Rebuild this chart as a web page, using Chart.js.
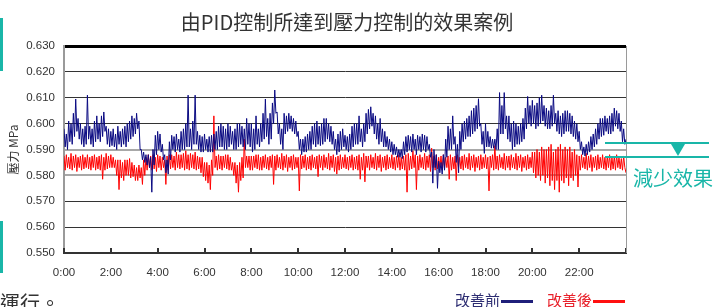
<!DOCTYPE html>
<html>
<head>
<meta charset="utf-8">
<script src="https://cdn.jsdelivr.net/npm/chart.js@4.4.1/dist/chart.umd.min.js"></script>
<style>
  html, body { margin: 0; padding: 0; background: #fff; }
  #wrap { position: relative; width: 716px; height: 307px; overflow: hidden; font-family: "Noto Sans CJK TC", "Noto Sans", sans-serif; }
  canvas { position: absolute; left: 0; top: 0; }
  .abs { position: absolute; white-space: nowrap; }
  .bar { position: absolute; left: 0; width: 3px; background: #19b6a8; }
</style>
</head>
<body>
<div id="wrap">
  <canvas id="c" width="716" height="307"></canvas>
  <div class="bar" style="top:18px;height:53px;"></div>
  <div class="bar" style="top:221px;height:52px;"></div>
  <div class="abs" id="title" style="left:0;width:694px;text-align:center;top:12px;font-size:20px;line-height:20px;color:#333;">由PID控制所達到壓力控制的效果案例</div>
  <div class="abs" style="left:0;top:293px;font-size:20px;line-height:20px;color:#333;">運行。</div>
  <div class="abs" style="left:633px;top:168px;font-size:20px;line-height:20px;color:#19b6a8;">減少效果</div>
  <div class="abs" style="left:605px;top:142px;width:104px;height:2px;background:#19b6a8;"></div>
  <div class="abs" style="left:605px;top:156px;width:104px;height:2px;background:#19b6a8;"></div>
  <div class="abs" style="left:671px;top:144px;width:0;height:0;border-left:7px solid transparent;border-right:7px solid transparent;border-top:12px solid #19b6a8;"></div>
  <div class="abs" style="left:455px;top:292px;font-size:15px;line-height:15px;color:#2d2d72;">改善前<span style="display:inline-block;width:32px;height:3px;background:#1f1f7a;vertical-align:middle;margin-left:1px;"></span></div>
  <div class="abs" style="left:547px;top:292px;font-size:15px;line-height:15px;color:#e8202a;">改善後<span style="display:inline-block;width:32px;height:3px;background:#ff1010;vertical-align:middle;margin-left:1px;"></span></div>
</div>
<script>
// sample spacing (hours): readings were taken every 0.05 h (3 min)
const sampleStepHours = 0.05;
const xTickLabels = ["0:00","2:00","4:00","6:00","8:00","10:00","12:00","14:00","16:00","18:00","20:00","22:00"];
const seriesNames = ["改善前", "改善後"];

// 改善前 (before improvement), MPa — one row per hour, 20 readings per row
const beforeValues = [
0.598,0.591,0.596,0.590,0.601,0.593,0.600,0.592,0.604,0.595,0.6095,0.597,0.602,0.594,0.600,0.592,0.598,0.591,0.599,0.592,
0.611,0.594,0.599,0.592,0.598,0.591,0.601,0.593,0.603,0.594,0.600,0.593,0.603,0.595,0.6045,0.597,0.599,0.592,0.598,0.591,
0.597,0.5915,0.598,0.591,0.596,0.590,0.599,0.592,0.597,0.591,0.598,0.592,0.599,0.591,0.600,0.593,0.601,0.594,0.603,0.595,
0.602,0.596,0.604,0.598,0.601,0.590,0.590,0.586,0.589,0.585,0.588,0.584,0.588,0.583,0.587,0.5735,0.590,0.584,0.5955,0.588,
0.597,0.590,0.596,0.589,0.592,0.586,0.588,0.581,0.586,0.5805,0.593,0.586,0.5955,0.590,0.595,0.589,0.596,0.590,0.594,0.589,
0.597,0.590,0.598,0.590,0.600,0.591,0.611,0.591,0.598,0.590,0.601,0.592,0.611,0.592,0.597,0.590,0.5955,0.589,0.595,0.589,
0.596,0.590,0.594,0.589,0.595,0.589,0.5955,0.589,0.596,0.590,0.597,0.590,0.599,0.591,0.600,0.591,0.599,0.590,0.598,0.590,
0.600,0.591,0.599,0.592,0.597,0.590,0.598,0.590,0.600,0.591,0.600,0.592,0.599,0.591,0.598,0.590,0.602,0.592,0.600,0.591,
0.600,0.589,0.598,0.590,0.603,0.592,0.598,0.591,0.600,0.593,0.604,0.594,0.6095,0.595,0.602,0.592,0.604,0.594,0.608,0.600,
0.613,0.604,0.6045,0.596,0.600,0.592,0.598,0.590,0.604,0.596,0.603,0.597,0.604,0.598,0.603,0.597,0.602,0.596,0.601,0.595,
0.597,0.590,0.594,0.588,0.594,0.589,0.595,0.589,0.596,0.590,0.597,0.590,0.599,0.592,0.600,0.591,0.601,0.592,0.599,0.5915,
0.600,0.592,0.602,0.593,0.602,0.594,0.600,0.593,0.599,0.592,0.597,0.590,0.594,0.588,0.596,0.589,0.597,0.590,0.598,0.591,
0.5955,0.590,0.595,0.589,0.596,0.590,0.599,0.591,0.600,0.592,0.600,0.592,0.603,0.593,0.598,0.591,0.600,0.593,0.604,0.596,
0.6055,0.598,0.6065,0.599,0.604,0.596,0.603,0.594,0.600,0.592,0.602,0.593,0.598,0.591,0.597,0.591,0.595,0.590,0.594,0.589,
0.593,0.588,0.592,0.588,0.591,0.587,0.590,0.587,0.590,0.5865,0.593,0.588,0.595,0.589,0.5955,0.590,0.595,0.589,0.596,0.590,
0.594,0.588,0.5955,0.590,0.595,0.589,0.596,0.590,0.5955,0.589,0.595,0.590,0.592,0.587,0.589,0.577,0.590,0.583,0.588,0.575,
0.5855,0.581,0.585,0.5805,0.588,0.582,0.594,0.587,0.599,0.590,0.598,0.590,0.603,0.592,0.595,0.585,0.592,0.581,0.597,0.590,
0.600,0.593,0.601,0.594,0.602,0.595,0.603,0.595,0.605,0.596,0.606,0.597,0.607,0.598,0.6096,0.599,0.600,0.592,0.597,0.5885,
0.600,0.591,0.597,0.591,0.595,0.5905,0.594,0.5905,0.594,0.590,0.598,0.590,0.612,0.596,0.607,0.596,0.612,0.598,0.603,0.594,
0.603,0.593,0.600,0.590,0.601,0.591,0.600,0.592,0.599,0.592,0.600,0.593,0.602,0.594,0.606,0.598,0.6105,0.600,0.607,0.599,
0.609,0.600,0.607,0.598,0.608,0.599,0.610,0.600,0.611,0.601,0.607,0.599,0.606,0.598,0.605,0.598,0.607,0.599,0.611,0.600,
0.604,0.597,0.605,0.596,0.603,0.595,0.604,0.596,0.605,0.597,0.605,0.597,0.604,0.596,0.603,0.595,0.601,0.594,0.600,0.593,
0.597,0.590,0.593,0.588,0.591,0.5875,0.592,0.588,0.593,0.589,0.595,0.590,0.596,0.591,0.598,0.592,0.600,0.594,0.602,0.595,
0.602,0.5955,0.603,0.597,0.602,0.596,0.603,0.596,0.604,0.597,0.606,0.599,0.605,0.598,0.604,0.597,0.601,0.593,0.598,0.592,
0.594
];

// 改善後 (after improvement), MPa — one row per hour, 20 readings per row
const afterValues = [
0.5875,0.582,0.588,0.583,0.587,0.5825,0.5885,0.582,0.5875,0.583,0.588,0.5815,0.587,0.583,0.5875,0.582,0.588,0.5825,0.587,0.583,
0.588,0.5825,0.587,0.582,0.5875,0.583,0.588,0.582,0.587,0.5825,0.5875,0.582,0.588,0.5785,0.587,0.582,0.5885,0.5825,0.5875,0.583,
0.588,0.583,0.587,0.583,0.586,0.580,0.586,0.5745,0.586,0.579,0.585,0.578,0.586,0.580,0.586,0.580,0.5865,0.579,0.585,0.5795,
0.584,0.578,0.583,0.578,0.584,0.579,0.583,0.5765,0.586,0.580,0.587,0.582,0.588,0.583,0.5875,0.582,0.588,0.5825,0.587,0.5815,
0.588,0.583,0.5875,0.582,0.587,0.583,0.586,0.5765,0.5875,0.582,0.588,0.5825,0.588,0.583,0.5875,0.582,0.589,0.583,0.588,0.5825,
0.588,0.583,0.5885,0.582,0.5895,0.5825,0.588,0.582,0.5885,0.583,0.588,0.5825,0.589,0.582,0.5875,0.5825,0.587,0.581,0.587,0.5795,
0.585,0.578,0.585,0.577,0.584,0.5745,0.586,0.580,0.603,0.583,0.5875,0.582,0.588,0.5825,0.5875,0.582,0.5875,0.583,0.588,0.5825,
0.588,0.582,0.587,0.582,0.585,0.580,0.585,0.577,0.584,0.5735,0.585,0.578,0.587,0.579,0.594,0.583,0.5875,0.583,0.5875,0.582,
0.5875,0.582,0.5875,0.583,0.588,0.5825,0.588,0.582,0.587,0.582,0.5875,0.583,0.588,0.5825,0.587,0.582,0.5875,0.583,0.588,0.5765,
0.5875,0.582,0.588,0.583,0.587,0.5825,0.5885,0.582,0.5875,0.583,0.588,0.5815,0.587,0.583,0.5875,0.582,0.588,0.5825,0.587,0.583,
0.587,0.574,0.588,0.5825,0.5875,0.583,0.588,0.582,0.587,0.5825,0.5875,0.582,0.588,0.583,0.587,0.5825,0.5875,0.5795,0.588,0.583,
0.5875,0.582,0.588,0.583,0.587,0.5825,0.5885,0.582,0.5875,0.583,0.588,0.5815,0.587,0.5805,0.5875,0.582,0.588,0.5825,0.587,0.583,
0.588,0.5825,0.587,0.582,0.5875,0.583,0.588,0.582,0.587,0.5825,0.5875,0.582,0.588,0.5785,0.587,0.582,0.5885,0.5775,0.5875,0.583,
0.5875,0.582,0.588,0.583,0.587,0.5825,0.5885,0.582,0.5875,0.583,0.588,0.5815,0.587,0.583,0.5875,0.582,0.588,0.5825,0.587,0.583,
0.588,0.5825,0.587,0.582,0.5875,0.583,0.588,0.582,0.587,0.5825,0.5875,0.582,0.588,0.5735,0.5885,0.582,0.5875,0.5825,0.5895,0.583,
0.588,0.5745,0.5875,0.582,0.588,0.583,0.587,0.5825,0.5885,0.582,0.5875,0.583,0.588,0.5815,0.5905,0.583,0.5875,0.582,0.588,0.5825,
0.587,0.583,0.5875,0.582,0.588,0.5825,0.587,0.583,0.5875,0.5785,0.588,0.582,0.587,0.5825,0.5875,0.578,0.588,0.583,0.587,0.5825,
0.5875,0.582,0.588,0.583,0.587,0.5825,0.5885,0.582,0.5875,0.583,0.588,0.5815,0.587,0.583,0.5875,0.582,0.588,0.5825,0.587,0.583,
0.588,0.5825,0.587,0.574,0.5875,0.583,0.588,0.582,0.5915,0.5825,0.5875,0.582,0.588,0.583,0.587,0.5825,0.5885,0.582,0.5875,0.583,
0.5875,0.582,0.588,0.583,0.587,0.5825,0.5885,0.582,0.5875,0.583,0.588,0.5815,0.587,0.583,0.5875,0.582,0.588,0.5825,0.587,0.583,
0.589,0.581,0.589,0.579,0.590,0.580,0.589,0.578,0.591,0.580,0.590,0.577,0.590,0.579,0.591,0.576,0.592,0.578,0.589,0.5745,
0.590,0.578,0.591,0.5735,0.592,0.578,0.590,0.577,0.591,0.579,0.590,0.576,0.591,0.579,0.589,0.578,0.590,0.580,0.588,0.5755,
0.5875,0.582,0.588,0.583,0.587,0.5825,0.5885,0.582,0.5875,0.583,0.588,0.5815,0.587,0.583,0.5875,0.582,0.588,0.5825,0.587,0.583,
0.588,0.5825,0.587,0.582,0.5875,0.583,0.588,0.582,0.587,0.5825,0.5875,0.582,0.588,0.583,0.587,0.5825,0.5865,0.582,0.5875,0.583,
0.581
];

const toPoints = arr => arr.map((v, i) => ({ x: Math.round(i * sampleStepHours * 100) / 100, y: v }));

const innerTicks = {
  id: 'innerTicks',
  afterDraw(chart) {
    const ctx = chart.ctx, xs = chart.scales.x, area = chart.chartArea;
    ctx.save();
    ctx.strokeStyle = '#333';
    ctx.lineWidth = 2;
    for (let h = 0; h <= 24; h += 2) {
      const px = Math.round(xs.getPixelForValue(h));
      ctx.beginPath();
      ctx.moveTo(px, area.bottom);
      ctx.lineTo(px, area.bottom - 5);
      ctx.stroke();
    }
    ctx.strokeStyle = '#9a9a9a';
    ctx.lineWidth = 1;
    ctx.beginPath();
    ctx.moveTo(area.right + 0.5, area.top);
    ctx.lineTo(area.right + 0.5, area.bottom);
    ctx.stroke();
    ctx.restore();
  }
};

new Chart(document.getElementById('c'), {
  type: 'line',
  data: {
    datasets: [
      { label: seriesNames[0], data: toPoints(beforeValues), borderColor: '#0a0a82', borderWidth: 1, pointRadius: 0, tension: 0, order: 0 },
      { label: seriesNames[1], data: toPoints(afterValues), borderColor: '#ff0000', borderWidth: 1, pointRadius: 0, tension: 0, order: 1 }
    ]
  },
  options: {
    responsive: false,
    animation: false,
    devicePixelRatio: 1,
    layout: { padding: { left: 0, right: 90, top: 46, bottom: 0 } },
    plugins: { legend: { display: false }, tooltip: { enabled: false }, title: { display: false } },
    scales: {
      x: {
        type: 'linear', min: 0, max: 24,
        afterBuildTicks(scale) { scale.ticks = []; for (let h = 0; h <= 24; h += 2) scale.ticks.push({ value: h }); },
        afterFit(scale) { scale.height = 54; },
        ticks: {
          autoSkip: false, maxRotation: 0, padding: 13, color: '#333',
          font: { family: 'Liberation Sans', size: 11.5 },
          callback: (v) => { const i = Math.round(v / 2); return i < xTickLabels.length ? xTickLabels[i] : ''; }
        },
        grid: { display: false, drawTicks: false },
        border: { display: true, color: '#333', width: 2 }
      },
      y: {
        min: 0.55, max: 0.63,
        afterBuildTicks(scale) { scale.ticks = []; for (let k = 550; k <= 630; k += 10) scale.ticks.push({ value: k / 1000 }); },
        afterFit(scale) { scale.width = 64; },
        ticks: {
          padding: 9, color: '#333',
          font: { family: 'Liberation Sans', size: 11.5 },
          callback: (v) => v.toFixed(3)
        },
        grid: {
          drawTicks: false,
          color: (c) => { const k = Math.round(c.tick.value * 1000); return k === 630 ? '#000' : (k === 590 || k === 580) ? '#a8a8a8' : '#333'; },
          lineWidth: (c) => { const k = Math.round(c.tick.value * 1000); return k === 630 ? 3 : (k === 590 || k === 580) ? 2 : k === 550 ? 0 : 1; }
        },
        border: { display: true, color: '#9a9a9a', width: 2 },
        title: { display: true, text: '壓力 MPa', color: '#333', font: { family: 'Noto Sans CJK TC', size: 12 }, padding: { top: 6, bottom: 0 } }
      }
    }
  },
  plugins: [innerTicks]
});
</script>
</body>
</html>
